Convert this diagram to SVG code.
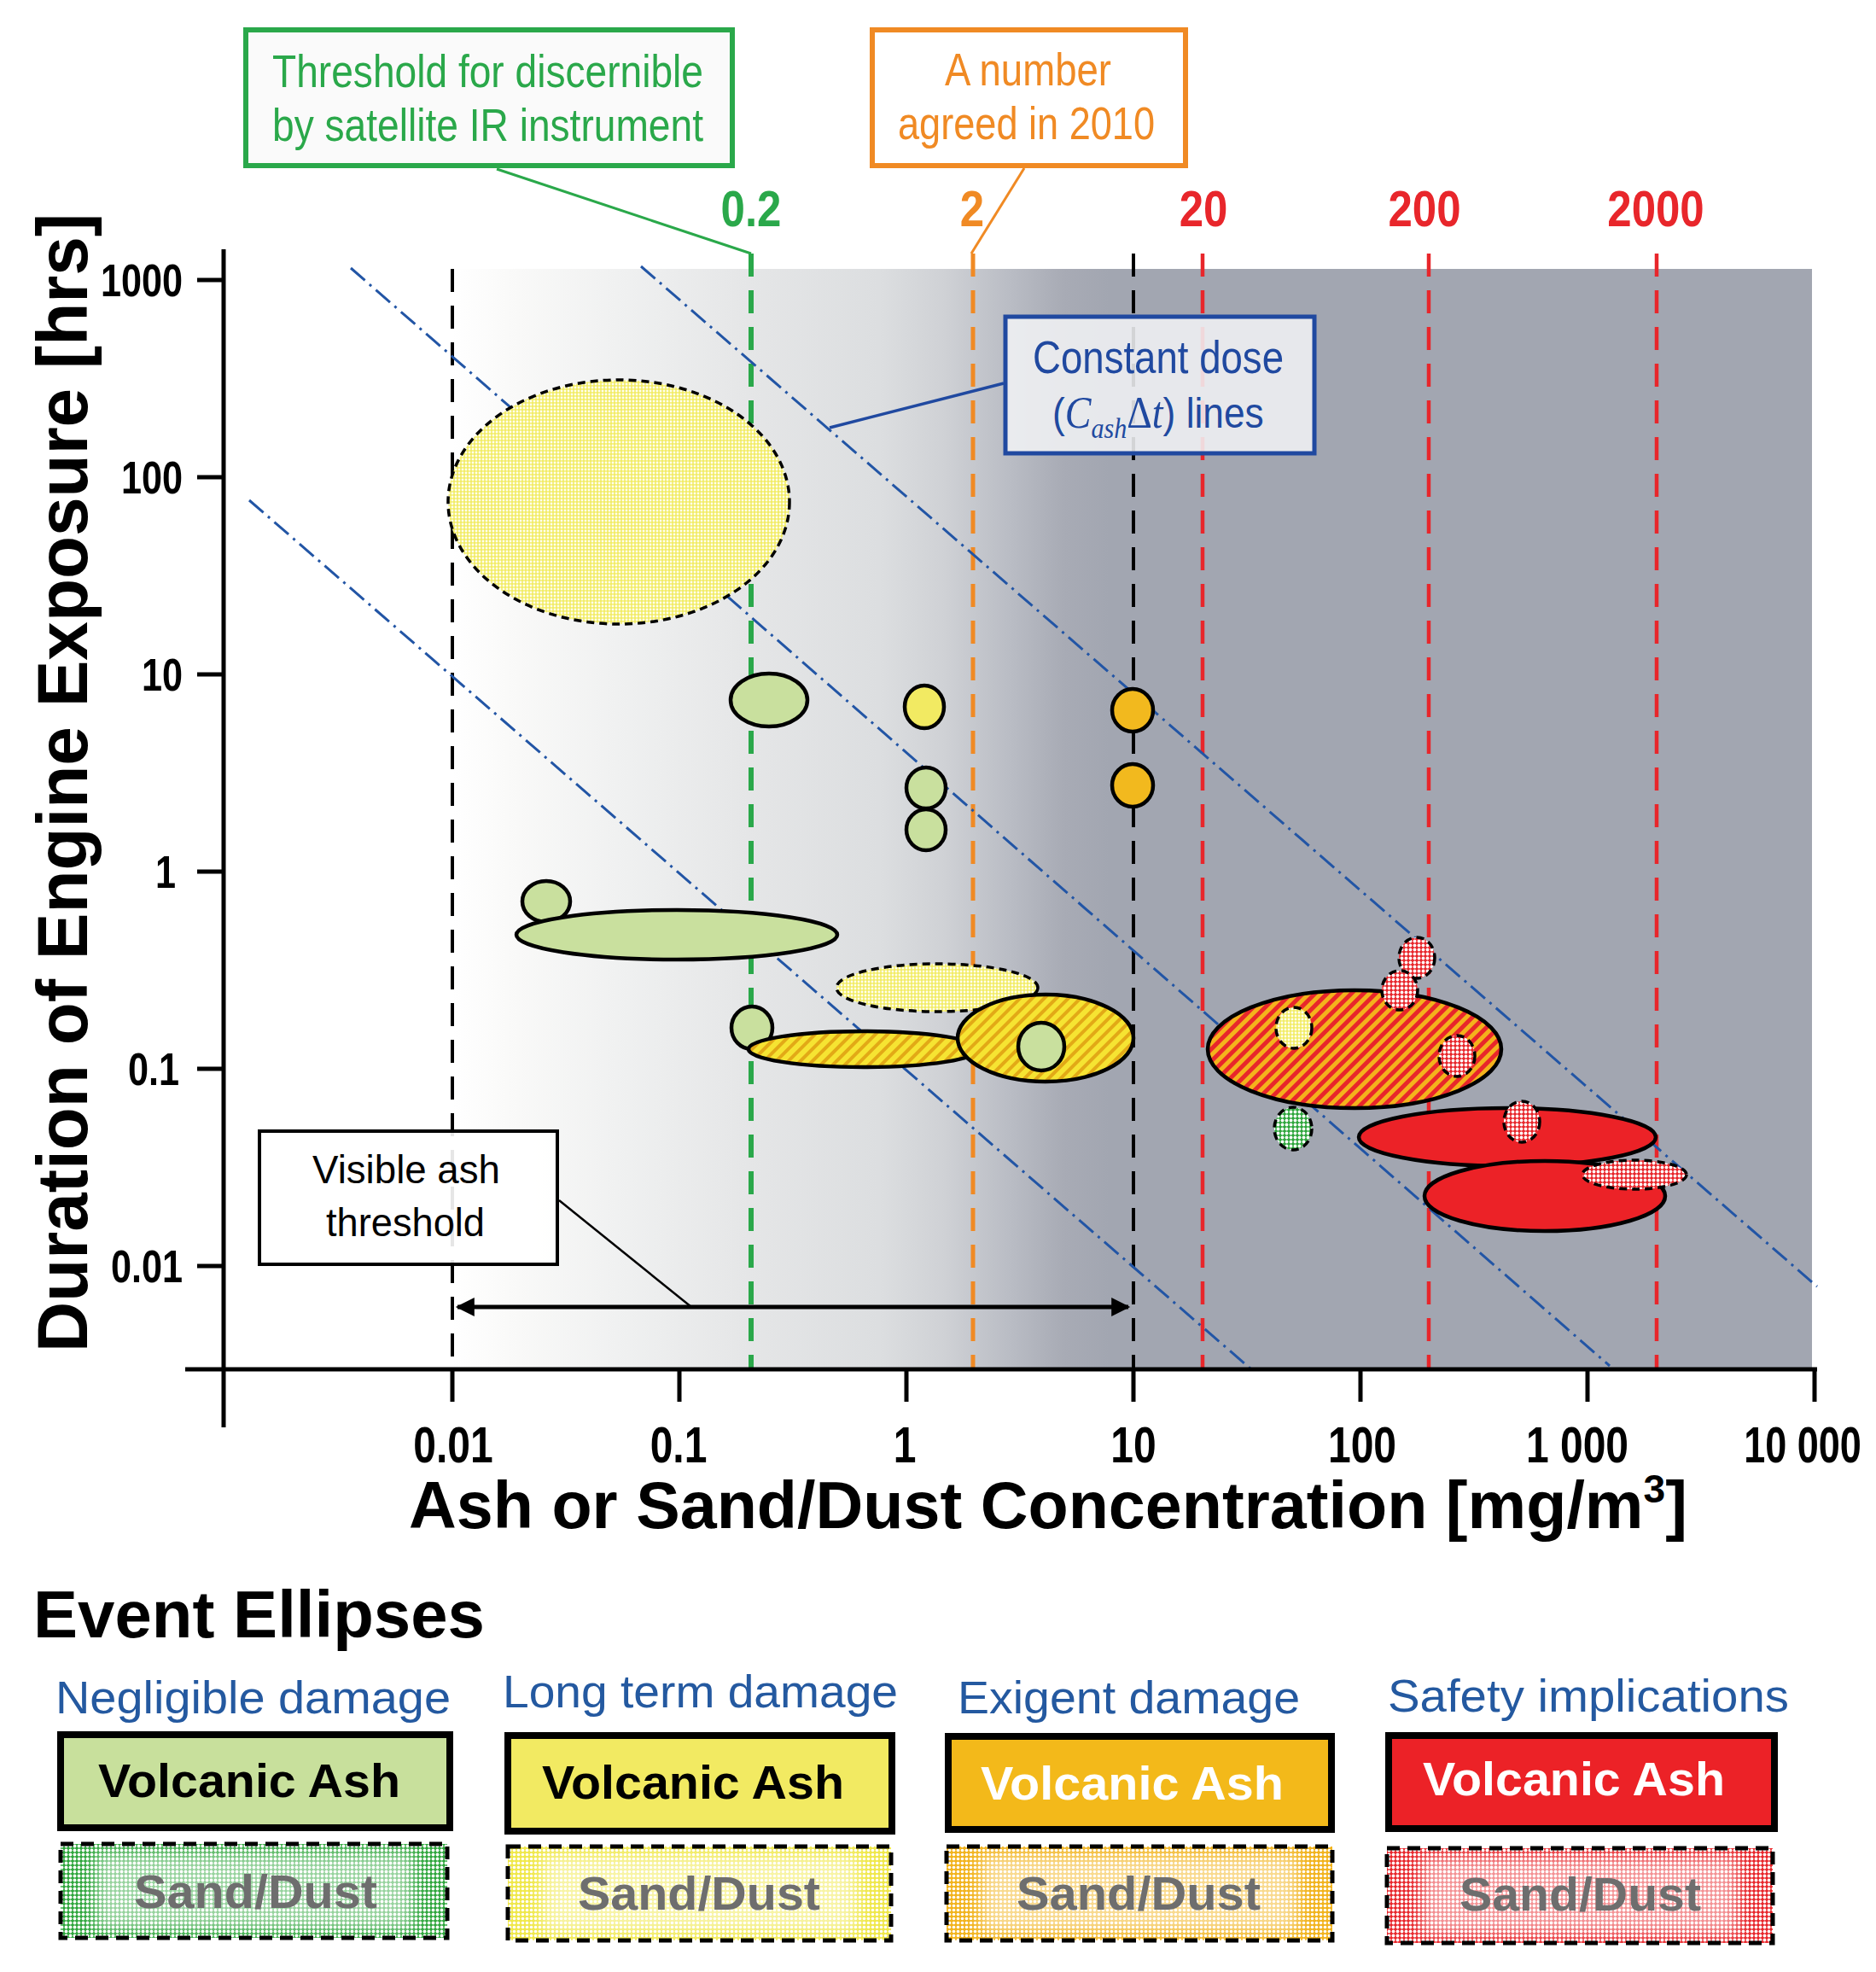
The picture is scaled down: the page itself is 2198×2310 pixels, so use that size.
<svg xmlns="http://www.w3.org/2000/svg" width="2198" height="2310" viewBox="0 0 2198 2310">
<style>
.sans{font-family:"Liberation Sans",Arial,sans-serif}
.serif{font-family:"Liberation Serif","Times New Roman",serif}
.b{font-weight:bold}
.axis{stroke:#000;stroke-width:5;fill:none}
.vdash{stroke-dasharray:27 16;fill:none}
.dose{stroke:#2255a5;stroke-width:3;stroke-dasharray:22 7 3 7;fill:none}
.solid{stroke:#000;stroke-width:4.5}
.dsh{stroke:#000;stroke-width:3.5;stroke-dasharray:9 6}
.tick{font-size:54px;font-weight:bold}
.xtick{font-size:60px;font-weight:bold}
.top{font-size:60px;font-weight:bold}
.hdr{font-size:54px;fill:#2459a0}
.va{font-size:56px;font-weight:bold}
.sd{font-size:56px;font-weight:bold;fill:#6e6e6e}
.leg{stroke:#000;stroke-width:8}
.legd{stroke:#000;stroke-width:5;stroke-dasharray:15 9}
</style>
<defs>
<linearGradient id="bg" gradientUnits="userSpaceOnUse" x1="530" y1="0" x2="1300" y2="0">
<stop offset="0" stop-color="#ffffff"/>
<stop offset="0.1" stop-color="#f9f9f8"/>
<stop offset="0.25" stop-color="#f0f1f1"/>
<stop offset="0.45" stop-color="#e5e6e7"/>
<stop offset="0.65" stop-color="#dcdee0"/>
<stop offset="0.75" stop-color="#cfd1d5"/>
<stop offset="0.85" stop-color="#b9bcc4"/>
<stop offset="0.93" stop-color="#a8abb5"/>
<stop offset="1" stop-color="#a2a6b1"/>
</linearGradient>
<pattern id="pyel" patternUnits="userSpaceOnUse" width="4" height="4">
<rect width="4" height="4" fill="#f2ec66"/><circle cx="2" cy="2" r="1.4" fill="#ffffee"/>
</pattern>
<pattern id="pred" patternUnits="userSpaceOnUse" width="5" height="5">
<rect width="5" height="5" fill="#e8262b"/><circle cx="2.5" cy="2.5" r="1.9" fill="#ffffff"/>
</pattern>
<pattern id="pgrn" patternUnits="userSpaceOnUse" width="5" height="5">
<rect width="5" height="5" fill="#2ea63c"/><circle cx="2.5" cy="2.5" r="1.9" fill="#ffffff"/>
</pattern>
<pattern id="pyel2" patternUnits="userSpaceOnUse" width="5" height="5">
<rect width="5" height="5" fill="#f0e84a"/><circle cx="2.5" cy="2.5" r="1.8" fill="#ffffff"/>
</pattern>
<pattern id="porg" patternUnits="userSpaceOnUse" width="5" height="5">
<rect width="5" height="5" fill="#f2b41e"/><circle cx="2.5" cy="2.5" r="1.8" fill="#ffffff"/>
</pattern>
<pattern id="hyel" patternUnits="userSpaceOnUse" width="10" height="10" patternTransform="rotate(45)">
<rect width="10" height="10" fill="#f6e432"/><rect width="4" height="10" fill="#e2a916"/>
</pattern>
<pattern id="hro" patternUnits="userSpaceOnUse" width="10" height="10" patternTransform="rotate(45)">
<rect width="10" height="10" fill="#f4b21c"/><rect width="5" height="10" fill="#e8262b"/>
</pattern>
<filter id="soft" x="-20%" y="-50%" width="140%" height="200%">
<feGaussianBlur stdDeviation="9"/>
</filter>
<marker id="ah" viewBox="0 0 10 10" refX="9" refY="5" markerWidth="5" markerHeight="4.4" orient="auto-start-reverse" markerUnits="strokeWidth">
<path d="M0,0 L10,5 L0,10 z" fill="#000"/>
</marker>
</defs>

<rect width="2198" height="2310" fill="#ffffff"/>

<!-- plot background -->
<rect x="530" y="315" width="1593" height="1289" fill="url(#bg)"/>

<!-- vertical reference lines -->
<g id="reference-lines">
<line x1="530" y1="315" x2="530" y2="1604" class="vdash" stroke="#000" stroke-width="4"/>
<line x1="1328" y1="297" x2="1328" y2="1604" class="vdash" stroke="#000" stroke-width="4"/>
<line x1="880" y1="297" x2="880" y2="1604" class="vdash" stroke="#2aa84a" stroke-width="6"/>
<line x1="1140" y1="297" x2="1140" y2="1604" class="vdash" stroke="#f08a24" stroke-width="5"/>
<line x1="1409" y1="297" x2="1409" y2="1604" class="vdash" stroke="#e8262b" stroke-width="4.5"/>
<line x1="1674" y1="297" x2="1674" y2="1604" class="vdash" stroke="#e8262b" stroke-width="4.5"/>
<line x1="1941" y1="297" x2="1941" y2="1604" class="vdash" stroke="#e8262b" stroke-width="4.5"/>
</g>

<!-- constant dose lines -->
<g id="dose-lines">
<line x1="292" y1="586" x2="1466" y2="1604" class="dose"/>
<line x1="411" y1="314" x2="1886" y2="1600" class="dose"/>
<line x1="751" y1="312" x2="2129" y2="1507" class="dose"/>
</g>

<!-- axes -->
<g id="axes">
<line x1="262" y1="292" x2="262" y2="1672" class="axis"/>
<line x1="217" y1="1604" x2="2129" y2="1604" class="axis"/>
<g class="axis">
<line x1="231" y1="328" x2="262" y2="328"/>
<line x1="231" y1="559" x2="262" y2="559"/>
<line x1="231" y1="790" x2="262" y2="790"/>
<line x1="231" y1="1021" x2="262" y2="1021"/>
<line x1="231" y1="1252" x2="262" y2="1252"/>
<line x1="231" y1="1483" x2="262" y2="1483"/>
<line x1="530" y1="1604" x2="530" y2="1642"/>
<line x1="796" y1="1604" x2="796" y2="1642"/>
<line x1="1062" y1="1604" x2="1062" y2="1642"/>
<line x1="1328" y1="1604" x2="1328" y2="1642"/>
<line x1="1594" y1="1604" x2="1594" y2="1642"/>
<line x1="1860" y1="1604" x2="1860" y2="1642"/>
<line x1="2126" y1="1604" x2="2126" y2="1642"/>
</g>
<g class="sans tick" text-anchor="end" fill="#000">
<text transform="translate(214,347) scale(0.8,1)">1000</text>
<text transform="translate(214,578) scale(0.8,1)">100</text>
<text transform="translate(214,809) scale(0.8,1)">10</text>
<text transform="translate(206,1040) scale(0.8,1)">1</text>
<text transform="translate(210,1271) scale(0.8,1)">0.1</text>
<text transform="translate(214,1502) scale(0.8,1)">0.01</text>
</g>
<g class="sans xtick" text-anchor="middle" fill="#000">
<text transform="translate(531,1713) scale(0.8,1)">0.01</text>
<text transform="translate(795,1713) scale(0.8,1)">0.1</text>
<text transform="translate(1060,1713) scale(0.8,1)">1</text>
<text transform="translate(1328,1713) scale(0.8,1)">10</text>
<text transform="translate(1596,1713) scale(0.8,1)">100</text>
<text transform="translate(1848,1713) scale(0.8,1)">1 000</text>
<text transform="translate(2112,1713) scale(0.75,1)">10 000</text>
</g>
<text class="sans b" x="479" y="1790" font-size="77" textLength="1498" lengthAdjust="spacingAndGlyphs">Ash or Sand/Dust Concentration [mg/m<tspan font-size="46" dy="-30">3</tspan><tspan dy="30">]</tspan></text>
<text class="sans b" transform="translate(102,917) rotate(-90)" text-anchor="middle" font-size="84" textLength="1334" lengthAdjust="spacingAndGlyphs">Duration of Engine Exposure [hrs]</text>
</g>

<!-- threshold value labels -->
<g id="threshold-labels" class="sans top" text-anchor="middle">
<text transform="translate(880,265) scale(0.85,1)" fill="#2aa84a">0.2</text>
<text transform="translate(1139,265) scale(0.85,1)" fill="#f08a24">2</text>
<text transform="translate(1410,265) scale(0.85,1)" fill="#e8262b">20</text>
<text transform="translate(1669,265) scale(0.85,1)" fill="#e8262b">200</text>
<text transform="translate(1940,265) scale(0.85,1)" fill="#e8262b">2000</text>
</g>

<!-- event ellipses -->
<g id="event-ellipses">
<ellipse cx="725" cy="588" rx="200" ry="143" fill="url(#pyel)" class="dsh"/>
<ellipse cx="901" cy="820" rx="45" ry="31" fill="#c9e09e" class="solid"/>
<ellipse cx="1083" cy="828" rx="23" ry="25" fill="#f2ea62" class="solid"/>
<ellipse cx="1085" cy="923" rx="23" ry="24" fill="#c9e09e" class="solid"/>
<ellipse cx="1085" cy="972" rx="23" ry="24" fill="#c9e09e" class="solid"/>
<ellipse cx="1327" cy="832" rx="24" ry="25" fill="#f2b91e" class="solid"/>
<ellipse cx="1327" cy="920" rx="24" ry="25" fill="#f2b91e" class="solid"/>
<ellipse cx="640" cy="1056" rx="28" ry="24" fill="#c9e09e" class="solid"/>
<ellipse cx="793" cy="1095" rx="188" ry="29" fill="#c9e09e" class="solid"/>
<ellipse cx="1098" cy="1157" rx="118" ry="28" fill="url(#pyel)" class="dsh"/>
<ellipse cx="881" cy="1204" rx="24" ry="25" fill="#c9e09e" class="solid"/>
<ellipse cx="1012" cy="1229" rx="135" ry="21" fill="url(#hyel)" class="solid"/>
<ellipse cx="1225" cy="1216" rx="103" ry="51" fill="url(#hyel)" class="solid"/>
<ellipse cx="1220" cy="1226" rx="27" ry="28" fill="#c9e09e" class="solid"/>
<ellipse cx="1587" cy="1229" rx="172" ry="69" fill="url(#hro)" class="solid"/>
<ellipse cx="1516" cy="1204" rx="21" ry="24" fill="url(#pyel)" class="dsh"/>
<ellipse cx="1707" cy="1237" rx="21" ry="24" fill="url(#pred)" class="dsh"/>
<ellipse cx="1660" cy="1122" rx="21" ry="24" fill="url(#pred)" class="dsh"/>
<ellipse cx="1640" cy="1160" rx="21" ry="23" fill="url(#pred)" class="dsh"/>
<ellipse cx="1515" cy="1322" rx="22" ry="25" fill="url(#pgrn)" class="dsh"/>
<ellipse cx="1766" cy="1332" rx="174" ry="34" fill="#ec2227" class="solid"/>
<ellipse cx="1783" cy="1314" rx="21" ry="24" fill="url(#pred)" class="dsh"/>
<ellipse cx="1810" cy="1401" rx="141" ry="41" fill="#ec2227" class="solid"/>
<ellipse cx="1915" cy="1376" rx="61" ry="17" fill="url(#pred)" class="dsh"/>
</g>

<!-- connectors -->
<g id="connectors" fill="none">
<line x1="582" y1="198" x2="880" y2="297" stroke="#2aa84a" stroke-width="3"/>
<line x1="1200" y1="197" x2="1138" y2="297" stroke="#f08a24" stroke-width="3"/>
<line x1="1176" y1="449" x2="972" y2="501" stroke="#2049a0" stroke-width="3.5"/>
<line x1="655" y1="1406" x2="810" y2="1531" stroke="#000" stroke-width="2.5"/>
<line x1="536" y1="1531" x2="1322" y2="1531" stroke="#000" stroke-width="5" marker-start="url(#ah)" marker-end="url(#ah)"/>
</g>

<!-- callout boxes -->
<g id="callout-satellite">
<rect x="288" y="35" width="570" height="159" fill="#fafafa" stroke="#2aa84a" stroke-width="6"/>
<text class="sans" x="319" y="102" font-size="53" fill="#2aa84a" textLength="505" lengthAdjust="spacingAndGlyphs">Threshold for discernible</text>
<text class="sans" x="319" y="165" font-size="53" fill="#2aa84a" textLength="505" lengthAdjust="spacingAndGlyphs">by satellite IR instrument</text>
</g>
<g id="callout-2010">
<rect x="1022" y="35" width="367" height="159" fill="#ffffff" stroke="#f08a24" stroke-width="6"/>
<text class="sans" x="1107" y="100" font-size="53" fill="#f08a24" textLength="195" lengthAdjust="spacingAndGlyphs">A number</text>
<text class="sans" x="1052" y="163" font-size="53" fill="#f08a24" textLength="301" lengthAdjust="spacingAndGlyphs">agreed in 2010</text>
</g>
<g id="callout-dose">
<rect x="1178" y="371" width="362" height="160" fill="#f0f1f4" fill-opacity="0.88" stroke="#2049a0" stroke-width="5"/>
<text class="sans" x="1210" y="437" font-size="53" fill="#2049a0" textLength="294" lengthAdjust="spacingAndGlyphs">Constant dose</text>
<text transform="translate(1233,501) scale(0.885,1)" fill="#2049a0"><tspan class="sans" font-size="50">(</tspan><tspan class="serif" font-style="italic" font-size="52">C</tspan><tspan class="serif" font-style="italic" font-size="34" dy="12">ash</tspan><tspan class="serif" font-size="52" dy="-12">Δ</tspan><tspan class="serif" font-style="italic" font-size="52">t</tspan><tspan class="sans" font-size="50">) lines</tspan></text>
</g>
<g id="callout-visible-ash">
<rect x="304" y="1325" width="349" height="156" fill="#ffffff" fill-opacity="0.9" stroke="#000" stroke-width="4"/>
<text class="sans" x="366" y="1386" font-size="46" textLength="220" lengthAdjust="spacingAndGlyphs">Visible ash</text>
<text class="sans" x="382" y="1448" font-size="46" textLength="186" lengthAdjust="spacingAndGlyphs">threshold</text>
</g>

<!-- legend -->
<g id="legend">
<text class="sans b" x="39" y="1918" font-size="77" textLength="529" lengthAdjust="spacingAndGlyphs">Event Ellipses</text>
<text class="sans hdr" x="65" y="2007" textLength="463" lengthAdjust="spacingAndGlyphs">Negligible damage</text>
<text class="sans hdr" x="589" y="2000" textLength="463" lengthAdjust="spacingAndGlyphs">Long term damage</text>
<text class="sans hdr" x="1122" y="2007" textLength="401" lengthAdjust="spacingAndGlyphs">Exigent damage</text>
<text class="sans hdr" x="1626" y="2005" textLength="470" lengthAdjust="spacingAndGlyphs">Safety implications</text>
</g>
<g id="legend-va-negligible">
<rect x="71" y="2032" width="456" height="109" fill="#c8e09c" class="leg"/>
<text class="sans va" x="115" y="2105" textLength="354" lengthAdjust="spacingAndGlyphs">Volcanic Ash</text>
</g>
<g id="legend-va-longterm">
<rect x="595" y="2033" width="450" height="112" fill="#f2ea62" class="leg"/>
<text class="sans va" x="635" y="2107" textLength="354" lengthAdjust="spacingAndGlyphs">Volcanic Ash</text>
</g>
<g id="legend-va-exigent">
<rect x="1111" y="2034" width="449" height="109" fill="#f3b91a" class="leg"/>
<text class="sans va" x="1149" y="2108" fill="#ffffff" textLength="355" lengthAdjust="spacingAndGlyphs">Volcanic Ash</text>
</g>
<g id="legend-va-safety">
<rect x="1627" y="2033" width="452" height="109" fill="#ec2227" class="leg"/>
<text class="sans va" x="1667" y="2103" fill="#ffffff" textLength="354" lengthAdjust="spacingAndGlyphs">Volcanic Ash</text>
</g>
<g id="legend-sd-negligible">
<rect x="71" y="2160" width="453" height="110" fill="url(#pgrn)"/>
<rect x="112" y="2170" width="372" height="90" fill="#ffffff" fill-opacity="0.5" filter="url(#soft)"/>
<rect x="71" y="2160" width="453" height="110" fill="none" class="legd"/>
<text class="sans sd" x="157" y="2235" textLength="285" lengthAdjust="spacingAndGlyphs">Sand/Dust</text>
</g>
<g id="legend-sd-longterm">
<rect x="595" y="2163" width="449" height="110" fill="url(#pyel2)"/>
<rect x="636" y="2173" width="368" height="90" fill="#ffffff" fill-opacity="0.5" filter="url(#soft)"/>
<rect x="595" y="2163" width="449" height="110" fill="none" class="legd"/>
<text class="sans sd" x="677" y="2237" textLength="284" lengthAdjust="spacingAndGlyphs">Sand/Dust</text>
</g>
<g id="legend-sd-exigent">
<rect x="1109" y="2163" width="452" height="110" fill="url(#porg)"/>
<rect x="1150" y="2173" width="370" height="90" fill="#ffffff" fill-opacity="0.5" filter="url(#soft)"/>
<rect x="1109" y="2163" width="452" height="110" fill="none" class="legd"/>
<text class="sans sd" x="1191" y="2237" textLength="286" lengthAdjust="spacingAndGlyphs">Sand/Dust</text>
</g>
<g id="legend-sd-safety">
<rect x="1625" y="2165" width="452" height="111" fill="url(#pred)"/>
<rect x="1666" y="2175" width="370" height="91" fill="#ffffff" fill-opacity="0.5" filter="url(#soft)"/>
<rect x="1625" y="2165" width="452" height="111" fill="none" class="legd"/>
<text class="sans sd" x="1710" y="2238" textLength="283" lengthAdjust="spacingAndGlyphs">Sand/Dust</text>
</g>
</svg>
